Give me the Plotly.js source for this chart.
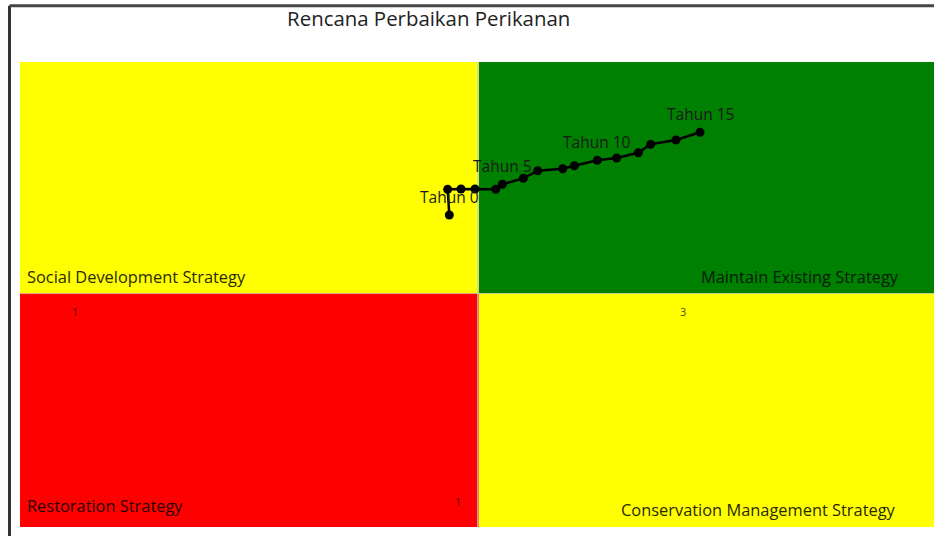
<!DOCTYPE html>
<html>
<head>
<meta charset="utf-8">
<script src="https://cdn.plot.ly/plotly-3.0.1.min.js"></script>
<style>
html,body{margin:0;padding:0;background:#fff;}
#chart{width:934px;height:536px;}
</style>
</head>
<body>
<div id="chart"></div>
<script>
// Trajectory values (x: 0-100 scale, y: 0-100 scale, quadrant split near 50)
const yearLabels = ["Tahun 0","","","","","Tahun 5","","","","","Tahun 10","","","","","Tahun 15"];
const xVals = [46.97, 46.79, 48.25, 49.78, 52.05, 52.77, 55.07, 56.64, 59.38, 60.65, 63.16, 65.28, 67.65, 69.00, 71.77, 74.40];
const yVals = [67.10, 72.62, 72.69, 72.69, 72.62, 73.70, 74.99, 76.62, 77.05, 77.70, 78.86, 79.35, 80.49, 82.30, 83.23, 84.88];

const quadrantNames = ["Social Development Strategy", "Maintain Existing Strategy", "Restoration Strategy", "Conservation Management Strategy"];
const quadrantColors = ["#FFFF00", "#008000", "#FF0000", "#FFFF00"];
const quadrantNumbers = ["1", "3", "1"];
const chartTitle = "Rencana Perbaikan Perikanan";

const FONT = "'Open Sans', 'Noto Sans', sans-serif";
const MX = 50.2, MY = 50.2;

const shapes = [
  {type:"rect", xref:"x", yref:"y", x0:0, x1:MX, y0:MY, y1:100, fillcolor:quadrantColors[0], line:{width:0}, layer:"below"},
  {type:"rect", xref:"x", yref:"y", x0:MX, x1:100, y0:MY, y1:100, fillcolor:quadrantColors[1], line:{width:0}, layer:"below"},
  {type:"rect", xref:"x", yref:"y", x0:0, x1:MX, y0:0, y1:MY, fillcolor:quadrantColors[2], line:{width:0}, layer:"below"},
  {type:"rect", xref:"x", yref:"y", x0:MX, x1:100, y0:0, y1:MY, fillcolor:quadrantColors[3], line:{width:0}, layer:"below"},
  {type:"line", xref:"x", yref:"y", x0:MX-0.12, x1:MX-0.12, y0:0, y1:100, line:{color:"rgba(205,205,205,0.75)", width:1.5}, layer:"below"},
  {type:"line", xref:"x", yref:"y", x0:0, x1:100, y0:MY, y1:MY, line:{color:"rgba(205,205,205,0.5)", width:1}, layer:"below"},
  // outer frame (left and top)
  {type:"line", xref:"paper", yref:"paper", x0:-0.0115, x1:-0.0115, y0:-0.03, y1:1.121, line:{color:"#333", width:3}},
  {type:"line", xref:"paper", yref:"paper", x0:-0.0115, x1:1.01, y0:1.121, y1:1.121, line:{color:"#444", width:3}}
];

const annotations = [];
yearLabels.forEach((t,i)=>{
  if(t){
    annotations.push({x:xVals[i], y:yVals[i], xref:"x", yref:"y", text:t, showarrow:false, yshift:18,
      font:{family:FONT, size:15.5, color:"#1a1a1a"}});
  }
});
annotations.push(
  {x:0.005, y:MY, xref:"paper", yref:"y", text:quadrantNames[0], showarrow:false, xanchor:"left", yanchor:"bottom", yshift:4, font:{family:FONT, size:16.4, color:"#2a2a00"}},
  {x:0.964, y:MY, xref:"paper", yref:"y", text:quadrantNames[1], showarrow:false, xanchor:"right", yanchor:"bottom", yshift:4, font:{family:FONT, size:16.4, color:"#0a1a0a"}},
  {x:0.006, y:0, xref:"paper", yref:"y", text:quadrantNames[2], showarrow:false, xanchor:"left", yanchor:"bottom", yshift:8, font:{family:FONT, size:16.4, color:"#2a0000"}},
  {x:0.961, y:0, xref:"paper", yref:"y", text:quadrantNames[3], showarrow:false, xanchor:"right", yanchor:"bottom", yshift:4, font:{family:FONT, size:16.4, color:"#2a2a00"}},
  {x:6.0, y:46.3, xref:"x", yref:"y", text:quadrantNumbers[0], showarrow:false, font:{family:FONT, size:11, color:"#5a0000"}},
  {x:72.5, y:46.3, xref:"x", yref:"y", text:quadrantNumbers[1], showarrow:false, font:{family:FONT, size:11, color:"#4a4a00"}},
  {x:47.9, y:5.4, xref:"x", yref:"y", text:quadrantNumbers[2], showarrow:false, font:{family:FONT, size:11, color:"#5a0000"}}
);

const trace = {
  x: xVals, y: yVals, type:"scatter", mode:"lines+markers",
  line:{color:"#000", width:2.5},
  marker:{color:"#000", size:9},
  hoverinfo:"skip"
};

const layout = {
  width:934, height:536,
  margin:{l:20, r:0, t:62, b:9},
  paper_bgcolor:"#fff", plot_bgcolor:"#fff",
  showlegend:false,
  title:{text:chartTitle, x:0.459, xanchor:"center", y:0.965, yanchor:"middle", font:{family:FONT, size:20.4, color:"#222"}},
  xaxis:{range:[0,100], showgrid:false, zeroline:false, showticklabels:false, ticks:"", showline:false, fixedrange:true},
  yaxis:{range:[0,100], showgrid:false, zeroline:false, showticklabels:false, ticks:"", showline:false, fixedrange:true},
  shapes: shapes,
  annotations: annotations
};

Plotly.newPlot("chart", [trace], layout, {displayModeBar:false, staticPlot:true});
</script>
</body>
</html>
